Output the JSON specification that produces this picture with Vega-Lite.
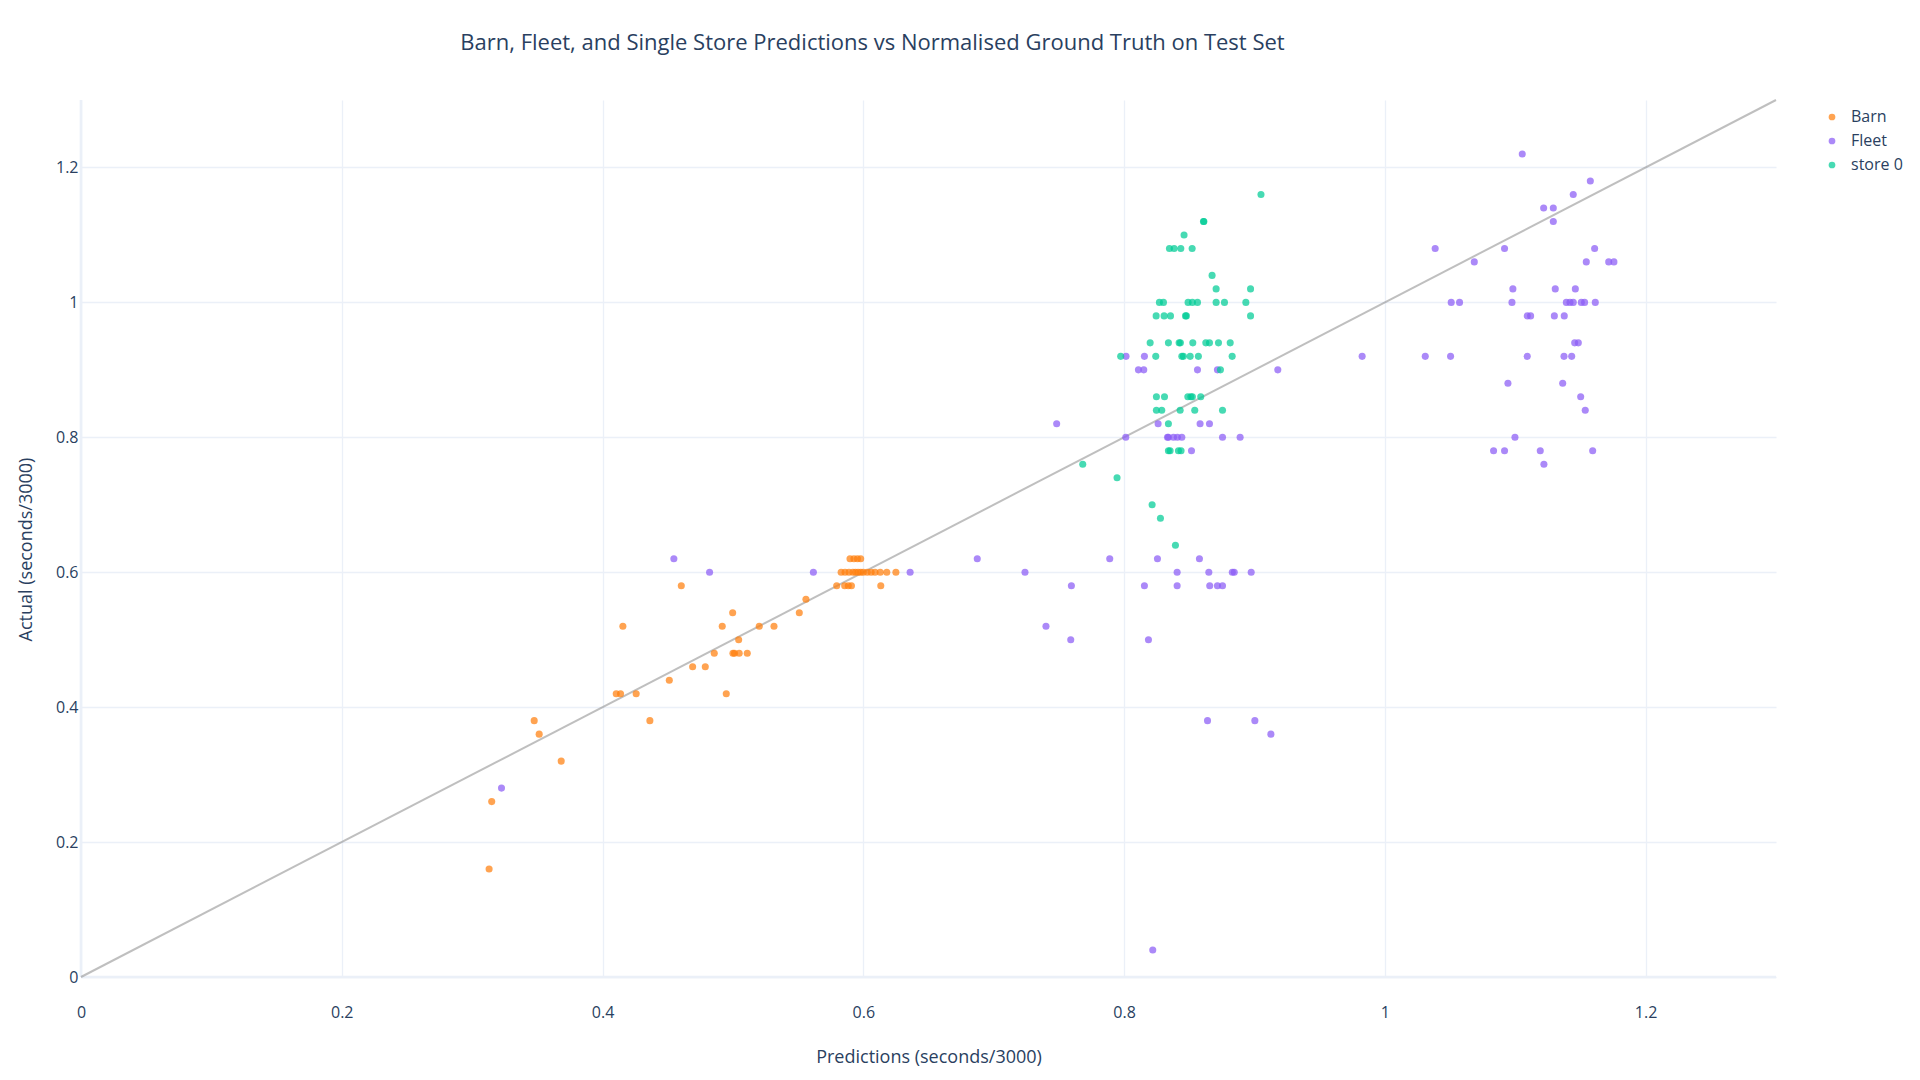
{
  "$schema": "https://vega.github.io/schema/vega-lite/v6.json",
  "width": 1695,
  "height": 877,
  "autosize": {"type": "none"},
  "padding": {"left": 81, "top": 100, "right": 144, "bottom": 103},
  "background": "white",
  "title": {
    "text": "Barn, Fleet, and Single Store Predictions vs Normalised Ground Truth on Test Set",
    "anchor": "middle",
    "dx": -56,
    "offset": 41,
    "fontSize": 22,
    "fontWeight": "normal",
    "font": "Open Sans",
    "color": "#2a3f5f"
  },
  "config": {
    "font": "Open Sans",
    "view": {"stroke": null},
    "axis": {
      "domain": false,
      "ticks": false,
      "tickSize": 0,
      "grid": true,
      "gridColor": "#EBF0F8",
      "gridWidth": 1.3,
      "labelFlush": false,
      "labelFont": "Open Sans",
      "labelFontSize": 16,
      "labelColor": "#2a3f5f",
      "titleFont": "Open Sans",
      "titleFontSize": 18,
      "titleFontWeight": "normal",
      "titleColor": "#2a3f5f"
    }
  },
  "datasets": {
    "diag": [{"p": 0, "a": 0}, {"p": 1.3, "a": 1.3}],
    "zero": [{"v": 0}],
    "points": [
      {"group": "Barn", "pred": 0.313, "actual": 0.16},
      {"group": "Barn", "pred": 0.315, "actual": 0.26},
      {"group": "Barn", "pred": 0.3476, "actual": 0.38},
      {"group": "Barn", "pred": 0.3514, "actual": 0.36},
      {"group": "Barn", "pred": 0.3683, "actual": 0.32},
      {"group": "Barn", "pred": 0.4105, "actual": 0.42},
      {"group": "Barn", "pred": 0.4138, "actual": 0.42},
      {"group": "Barn", "pred": 0.4156, "actual": 0.52},
      {"group": "Barn", "pred": 0.4258, "actual": 0.42},
      {"group": "Barn", "pred": 0.4363, "actual": 0.38},
      {"group": "Barn", "pred": 0.4512, "actual": 0.44},
      {"group": "Barn", "pred": 0.4604, "actual": 0.58},
      {"group": "Barn", "pred": 0.4691, "actual": 0.46},
      {"group": "Barn", "pred": 0.4788, "actual": 0.46},
      {"group": "Barn", "pred": 0.4857, "actual": 0.48},
      {"group": "Barn", "pred": 0.4918, "actual": 0.52},
      {"group": "Barn", "pred": 0.4949, "actual": 0.42},
      {"group": "Barn", "pred": 0.4998, "actual": 0.54},
      {"group": "Barn", "pred": 0.5, "actual": 0.48},
      {"group": "Barn", "pred": 0.5012, "actual": 0.48},
      {"group": "Barn", "pred": 0.5044, "actual": 0.5},
      {"group": "Barn", "pred": 0.5048, "actual": 0.48},
      {"group": "Barn", "pred": 0.511, "actual": 0.48},
      {"group": "Barn", "pred": 0.5202, "actual": 0.52},
      {"group": "Barn", "pred": 0.5315, "actual": 0.52},
      {"group": "Barn", "pred": 0.5509, "actual": 0.54},
      {"group": "Barn", "pred": 0.556, "actual": 0.56},
      {"group": "Barn", "pred": 0.5796, "actual": 0.58},
      {"group": "Barn", "pred": 0.5857, "actual": 0.58},
      {"group": "Barn", "pred": 0.5885, "actual": 0.58},
      {"group": "Barn", "pred": 0.5909, "actual": 0.58},
      {"group": "Barn", "pred": 0.6134, "actual": 0.58},
      {"group": "Barn", "pred": 0.583, "actual": 0.6},
      {"group": "Barn", "pred": 0.586, "actual": 0.6},
      {"group": "Barn", "pred": 0.589, "actual": 0.6},
      {"group": "Barn", "pred": 0.592, "actual": 0.6},
      {"group": "Barn", "pred": 0.594, "actual": 0.6},
      {"group": "Barn", "pred": 0.596, "actual": 0.6},
      {"group": "Barn", "pred": 0.598, "actual": 0.6},
      {"group": "Barn", "pred": 0.6, "actual": 0.6},
      {"group": "Barn", "pred": 0.603, "actual": 0.6},
      {"group": "Barn", "pred": 0.606, "actual": 0.6},
      {"group": "Barn", "pred": 0.609, "actual": 0.6},
      {"group": "Barn", "pred": 0.613, "actual": 0.6},
      {"group": "Barn", "pred": 0.618, "actual": 0.6},
      {"group": "Barn", "pred": 0.625, "actual": 0.6},
      {"group": "Barn", "pred": 0.5898, "actual": 0.62},
      {"group": "Barn", "pred": 0.5928, "actual": 0.62},
      {"group": "Barn", "pred": 0.5955, "actual": 0.62},
      {"group": "Barn", "pred": 0.598, "actual": 0.62},
      {"group": "Fleet", "pred": 0.3225, "actual": 0.28},
      {"group": "Fleet", "pred": 0.4547, "actual": 0.62},
      {"group": "Fleet", "pred": 0.4821, "actual": 0.6},
      {"group": "Fleet", "pred": 0.5617, "actual": 0.6},
      {"group": "Fleet", "pred": 0.6359, "actual": 0.6},
      {"group": "Fleet", "pred": 0.6874, "actual": 0.62},
      {"group": "Fleet", "pred": 0.724, "actual": 0.6},
      {"group": "Fleet", "pred": 0.7401, "actual": 0.52},
      {"group": "Fleet", "pred": 0.7483, "actual": 0.82},
      {"group": "Fleet", "pred": 0.7591, "actual": 0.5},
      {"group": "Fleet", "pred": 0.7596, "actual": 0.58},
      {"group": "Fleet", "pred": 0.789, "actual": 0.62},
      {"group": "Fleet", "pred": 0.8015, "actual": 0.92},
      {"group": "Fleet", "pred": 0.8013, "actual": 0.8},
      {"group": "Fleet", "pred": 0.811, "actual": 0.9},
      {"group": "Fleet", "pred": 0.8151, "actual": 0.9},
      {"group": "Fleet", "pred": 0.8156, "actual": 0.92},
      {"group": "Fleet", "pred": 0.8156, "actual": 0.58},
      {"group": "Fleet", "pred": 0.8187, "actual": 0.5},
      {"group": "Fleet", "pred": 0.822, "actual": 0.04},
      {"group": "Fleet", "pred": 0.8256, "actual": 0.62},
      {"group": "Fleet", "pred": 0.8261, "actual": 0.82},
      {"group": "Fleet", "pred": 0.8333, "actual": 0.8},
      {"group": "Fleet", "pred": 0.834, "actual": 0.8},
      {"group": "Fleet", "pred": 0.8379, "actual": 0.8},
      {"group": "Fleet", "pred": 0.8407, "actual": 0.6},
      {"group": "Fleet", "pred": 0.8407, "actual": 0.58},
      {"group": "Fleet", "pred": 0.8409, "actual": 0.8},
      {"group": "Fleet", "pred": 0.8443, "actual": 0.8},
      {"group": "Fleet", "pred": 0.8517, "actual": 0.78},
      {"group": "Fleet", "pred": 0.8563, "actual": 0.9},
      {"group": "Fleet", "pred": 0.8578, "actual": 0.62},
      {"group": "Fleet", "pred": 0.8583, "actual": 0.82},
      {"group": "Fleet", "pred": 0.864, "actual": 0.38},
      {"group": "Fleet", "pred": 0.865, "actual": 0.6},
      {"group": "Fleet", "pred": 0.8655, "actual": 0.82},
      {"group": "Fleet", "pred": 0.8657, "actual": 0.58},
      {"group": "Fleet", "pred": 0.8716, "actual": 0.9},
      {"group": "Fleet", "pred": 0.8716, "actual": 0.58},
      {"group": "Fleet", "pred": 0.8755, "actual": 0.58},
      {"group": "Fleet", "pred": 0.8755, "actual": 0.8},
      {"group": "Fleet", "pred": 0.883, "actual": 0.6},
      {"group": "Fleet", "pred": 0.8845, "actual": 0.6},
      {"group": "Fleet", "pred": 0.889, "actual": 0.8},
      {"group": "Fleet", "pred": 0.8975, "actual": 0.6},
      {"group": "Fleet", "pred": 0.9003, "actual": 0.38},
      {"group": "Fleet", "pred": 0.9126, "actual": 0.36},
      {"group": "Fleet", "pred": 0.9179, "actual": 0.9},
      {"group": "Fleet", "pred": 0.9826, "actual": 0.92},
      {"group": "Fleet", "pred": 1.031, "actual": 0.92},
      {"group": "Fleet", "pred": 1.0386, "actual": 1.08},
      {"group": "Fleet", "pred": 1.0504, "actual": 0.92},
      {"group": "Fleet", "pred": 1.0509, "actual": 1.0},
      {"group": "Fleet", "pred": 1.0573, "actual": 1.0},
      {"group": "Fleet", "pred": 1.0686, "actual": 1.06},
      {"group": "Fleet", "pred": 1.0834, "actual": 0.78},
      {"group": "Fleet", "pred": 1.0918, "actual": 1.08},
      {"group": "Fleet", "pred": 1.0918, "actual": 0.78},
      {"group": "Fleet", "pred": 1.0944, "actual": 0.88},
      {"group": "Fleet", "pred": 1.0975, "actual": 1.0},
      {"group": "Fleet", "pred": 1.0982, "actual": 1.02},
      {"group": "Fleet", "pred": 1.0998, "actual": 0.8},
      {"group": "Fleet", "pred": 1.1054, "actual": 1.22},
      {"group": "Fleet", "pred": 1.1092, "actual": 0.98},
      {"group": "Fleet", "pred": 1.1118, "actual": 0.98},
      {"group": "Fleet", "pred": 1.1092, "actual": 0.92},
      {"group": "Fleet", "pred": 1.1192, "actual": 0.78},
      {"group": "Fleet", "pred": 1.1218, "actual": 1.14},
      {"group": "Fleet", "pred": 1.122, "actual": 0.76},
      {"group": "Fleet", "pred": 1.1292, "actual": 1.14},
      {"group": "Fleet", "pred": 1.1292, "actual": 1.12},
      {"group": "Fleet", "pred": 1.13, "actual": 0.98},
      {"group": "Fleet", "pred": 1.1307, "actual": 1.02},
      {"group": "Fleet", "pred": 1.1364, "actual": 0.88},
      {"group": "Fleet", "pred": 1.1374, "actual": 0.92},
      {"group": "Fleet", "pred": 1.1376, "actual": 0.98},
      {"group": "Fleet", "pred": 1.1392, "actual": 1.0},
      {"group": "Fleet", "pred": 1.142, "actual": 1.0},
      {"group": "Fleet", "pred": 1.1433, "actual": 0.92},
      {"group": "Fleet", "pred": 1.1445, "actual": 1.0},
      {"group": "Fleet", "pred": 1.1445, "actual": 1.16},
      {"group": "Fleet", "pred": 1.1456, "actual": 0.94},
      {"group": "Fleet", "pred": 1.1461, "actual": 1.02},
      {"group": "Fleet", "pred": 1.1484, "actual": 0.94},
      {"group": "Fleet", "pred": 1.1502, "actual": 0.86},
      {"group": "Fleet", "pred": 1.1507, "actual": 1.0},
      {"group": "Fleet", "pred": 1.1532, "actual": 1.0},
      {"group": "Fleet", "pred": 1.1537, "actual": 0.84},
      {"group": "Fleet", "pred": 1.1545, "actual": 1.06},
      {"group": "Fleet", "pred": 1.1576, "actual": 1.18},
      {"group": "Fleet", "pred": 1.1594, "actual": 0.78},
      {"group": "Fleet", "pred": 1.1609, "actual": 1.08},
      {"group": "Fleet", "pred": 1.1614, "actual": 1.0},
      {"group": "Fleet", "pred": 1.1717, "actual": 1.06},
      {"group": "Fleet", "pred": 1.1757, "actual": 1.06},
      {"group": "store 0", "pred": 0.7683, "actual": 0.76},
      {"group": "store 0", "pred": 0.7946, "actual": 0.74},
      {"group": "store 0", "pred": 0.7974, "actual": 0.92},
      {"group": "store 0", "pred": 0.82, "actual": 0.94},
      {"group": "store 0", "pred": 0.8215, "actual": 0.7},
      {"group": "store 0", "pred": 0.8243, "actual": 0.92},
      {"group": "store 0", "pred": 0.8246, "actual": 0.98},
      {"group": "store 0", "pred": 0.8248, "actual": 0.86},
      {"group": "store 0", "pred": 0.8248, "actual": 0.84},
      {"group": "store 0", "pred": 0.8271, "actual": 1.0},
      {"group": "store 0", "pred": 0.8279, "actual": 0.68},
      {"group": "store 0", "pred": 0.8289, "actual": 0.84},
      {"group": "store 0", "pred": 0.8302, "actual": 1.0},
      {"group": "store 0", "pred": 0.8307, "actual": 0.98},
      {"group": "store 0", "pred": 0.831, "actual": 0.86},
      {"group": "store 0", "pred": 0.834, "actual": 0.94},
      {"group": "store 0", "pred": 0.834, "actual": 0.82},
      {"group": "store 0", "pred": 0.834, "actual": 0.78},
      {"group": "store 0", "pred": 0.8348, "actual": 1.08},
      {"group": "store 0", "pred": 0.8353, "actual": 0.78},
      {"group": "store 0", "pred": 0.8356, "actual": 0.98},
      {"group": "store 0", "pred": 0.8384, "actual": 1.08},
      {"group": "store 0", "pred": 0.8394, "actual": 0.64},
      {"group": "store 0", "pred": 0.8417, "actual": 0.78},
      {"group": "store 0", "pred": 0.8422, "actual": 0.94},
      {"group": "store 0", "pred": 0.8432, "actual": 0.94},
      {"group": "store 0", "pred": 0.843, "actual": 0.84},
      {"group": "store 0", "pred": 0.8435, "actual": 1.08},
      {"group": "store 0", "pred": 0.8437, "actual": 0.78},
      {"group": "store 0", "pred": 0.8443, "actual": 0.92},
      {"group": "store 0", "pred": 0.8455, "actual": 0.92},
      {"group": "store 0", "pred": 0.846, "actual": 1.1},
      {"group": "store 0", "pred": 0.8471, "actual": 0.98},
      {"group": "store 0", "pred": 0.8478, "actual": 0.98},
      {"group": "store 0", "pred": 0.8489, "actual": 0.86},
      {"group": "store 0", "pred": 0.8491, "actual": 1.0},
      {"group": "store 0", "pred": 0.8507, "actual": 0.92},
      {"group": "store 0", "pred": 0.8512, "actual": 0.86},
      {"group": "store 0", "pred": 0.8522, "actual": 1.08},
      {"group": "store 0", "pred": 0.8524, "actual": 1.0},
      {"group": "store 0", "pred": 0.8524, "actual": 0.86},
      {"group": "store 0", "pred": 0.8527, "actual": 0.94},
      {"group": "store 0", "pred": 0.8542, "actual": 0.84},
      {"group": "store 0", "pred": 0.8563, "actual": 1.0},
      {"group": "store 0", "pred": 0.857, "actual": 0.92},
      {"group": "store 0", "pred": 0.8588, "actual": 0.86},
      {"group": "store 0", "pred": 0.8609, "actual": 1.12},
      {"group": "store 0", "pred": 0.8612, "actual": 1.12},
      {"group": "store 0", "pred": 0.8627, "actual": 0.94},
      {"group": "store 0", "pred": 0.8655, "actual": 0.94},
      {"group": "store 0", "pred": 0.8675, "actual": 1.04},
      {"group": "store 0", "pred": 0.8706, "actual": 1.02},
      {"group": "store 0", "pred": 0.8706, "actual": 1.0},
      {"group": "store 0", "pred": 0.8724, "actual": 0.94},
      {"group": "store 0", "pred": 0.8739, "actual": 0.9},
      {"group": "store 0", "pred": 0.8755, "actual": 0.84},
      {"group": "store 0", "pred": 0.877, "actual": 1.0},
      {"group": "store 0", "pred": 0.8814, "actual": 0.94},
      {"group": "store 0", "pred": 0.8829, "actual": 0.92},
      {"group": "store 0", "pred": 0.8934, "actual": 1.0},
      {"group": "store 0", "pred": 0.897, "actual": 1.02},
      {"group": "store 0", "pred": 0.897, "actual": 0.98},
      {"group": "store 0", "pred": 0.905, "actual": 1.16}
    ]
  },
  "layer": [
    {
      "data": {"name": "zero"},
      "mark": {"type": "rule", "color": "#EBF0F8", "strokeWidth": 2.7},
      "encoding": {
        "y": {"field": "v", "type": "quantitative", "scale": {"domain": [0, 1.3], "nice": false}}
      }
    },
    {
      "data": {"name": "zero"},
      "mark": {"type": "rule", "color": "#EBF0F8", "strokeWidth": 2.7},
      "encoding": {
        "x": {"field": "v", "type": "quantitative", "scale": {"domain": [0, 1.3], "nice": false}}
      }
    },
    {
      "data": {"name": "diag"},
      "mark": {"type": "line", "color": "#808080", "opacity": 0.5, "strokeWidth": 2},
      "encoding": {
        "x": {"field": "p", "type": "quantitative"},
        "y": {"field": "a", "type": "quantitative"}
      }
    },
    {
      "data": {"name": "points"},
      "mark": {"type": "circle", "size": 50, "opacity": 0.72},
      "encoding": {
        "x": {
          "field": "pred",
          "type": "quantitative",
          "scale": {"domain": [0, 1.3], "nice": false},
          "axis": {
            "title": "Predictions (seconds/3000)",
            "values": [0, 0.2, 0.4, 0.6, 0.8, 1, 1.2],
            "format": "~g",
            "labelPadding": 27,
            "titleY": 80,
            "titleBaseline": "middle"
          }
        },
        "y": {
          "field": "actual",
          "type": "quantitative",
          "scale": {"domain": [0, 1.3], "nice": false},
          "axis": {
            "title": "Actual (seconds/3000)",
            "values": [0, 0.2, 0.4, 0.6, 0.8, 1, 1.2],
            "format": "~g",
            "labelPadding": 3,
            "titleX": -55,
            "titleY": 449,
            "titleBaseline": "middle"
          }
        },
        "color": {
          "field": "group",
          "type": "nominal",
          "scale": {"domain": ["Barn", "Fleet", "store 0"], "range": ["#ff7f0e", "#8a5cf5", "#00cc96"]},
          "legend": {
            "title": null,
            "orient": "none",
            "legendX": 1743,
            "legendY": 9,
            "padding": 0,
            "symbolType": "circle",
            "symbolSize": 45,
            "symbolOpacity": 0.72,
            "labelFont": "Open Sans",
            "labelFontSize": 16,
            "labelColor": "#2a3f5f",
            "rowPadding": 8,
            "labelOffset": 11
          }
        }
      }
    }
  ]
}
